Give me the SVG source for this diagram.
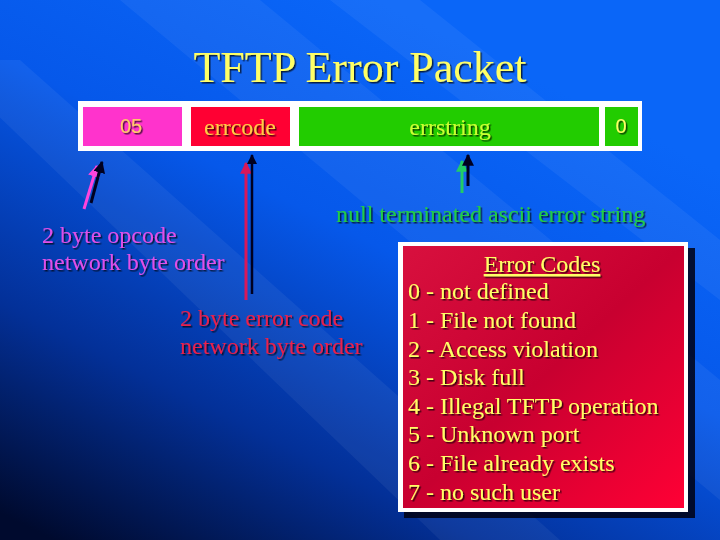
<svg xmlns="http://www.w3.org/2000/svg" width="720" height="540" viewBox="0 0 720 540">
<defs>
<linearGradient id="bg" x1="0.75" y1="0.15" x2="0.15" y2="1.05">
<stop offset="0" stop-color="#0a66f8"/>
<stop offset="0.35" stop-color="#0658ea"/>
<stop offset="0.7" stop-color="#033098"/>
<stop offset="1" stop-color="#000a2e"/>
</linearGradient>
<linearGradient id="redbox" x1="0" y1="0" x2="1" y2="1">
<stop offset="0" stop-color="#d8103e"/>
<stop offset="0.5" stop-color="#c80030"/>
<stop offset="1" stop-color="#ff0035"/>
</linearGradient>
<filter id="sh" x="-5%" y="-20%" width="110%" height="140%">
<feDropShadow dx="1.5" dy="1.5" stdDeviation="0.3" flood-color="#000000" flood-opacity="0.7"/>
</filter>
<marker id="ah" viewBox="0 0 10 10" refX="9" refY="5" markerWidth="4" markerHeight="4" orient="auto-start-reverse">
<path d="M0,0 L10,5 L0,10 z" fill="context-stroke"/>
</marker>
<marker id="ahk" viewBox="0 0 10 10" refX="9" refY="5" markerWidth="4" markerHeight="4" orient="auto">
<path d="M0,0 L10,5 L0,10 z" fill="#000020"/>
</marker>
<marker id="ahp" viewBox="0 0 10 10" refX="9" refY="5" markerWidth="4" markerHeight="4" orient="auto">
<path d="M0,0 L10,5 L0,10 z" fill="#ff44dd"/>
</marker>
<marker id="ahr" viewBox="0 0 10 10" refX="9" refY="5" markerWidth="4" markerHeight="4" orient="auto">
<path d="M0,0 L10,5 L0,10 z" fill="#d8185a"/>
</marker>
<marker id="ahg" viewBox="0 0 10 10" refX="9" refY="5" markerWidth="4" markerHeight="4" orient="auto">
<path d="M0,0 L10,5 L0,10 z" fill="#22cc66"/>
</marker>
</defs>
<style>
.serif{font-family:"Liberation Serif","Times New Roman",serif;}
.sans{font-family:"Liberation Sans",Arial,sans-serif;}
.t24{font-size:24px;}
.yl{fill:#ffff66;}
</style>
<rect x="0" y="0" width="720" height="540" fill="url(#bg)"/>
<g fill="#ffffff" opacity="0.05">
<polygon points="120,0 260,0 720,380 720,500"/>
<polygon points="-60,60 20,60 560,540 440,540"/>
<polygon points="330,0 420,0 720,240 720,300"/>
</g>
<text x="360" y="82" text-anchor="middle" class="serif yl" font-size="44" filter="url(#sh)">TFTP Error Packet</text>

<g id="packet">
<rect x="78" y="101" width="564" height="50" fill="#ffffff"/>
</g>
<g id="cell-opcode">
<rect x="83" y="107" width="99" height="39" fill="#ff33cc"/>
<text x="131" y="133" text-anchor="middle" class="sans" font-size="20" fill="#ffcc66" filter="url(#sh)">05</text>
</g>
<g id="cell-errcode">
<rect x="191" y="107" width="99" height="39" fill="#ff0033"/>
<text x="240" y="135" text-anchor="middle" class="serif t24" fill="#ffcc44" filter="url(#sh)">errcode</text>
</g>
<g id="cell-errstring">
<rect x="299" y="107" width="300" height="39" fill="#22cc00"/>
<text x="450" y="135" text-anchor="middle" class="serif t24" fill="#ccff33" filter="url(#sh)">errstring</text>
</g>
<g id="cell-zero">
<rect x="605" y="107" width="33" height="39" fill="#22cc00"/>
<text x="621" y="133" text-anchor="middle" class="sans" font-size="20" fill="#ffff66" filter="url(#sh)">0</text>
</g>

<g id="connectors" fill="none">
<line x1="84" y1="209" x2="97" y2="166" stroke="#ff44dd" stroke-width="3" marker-end="url(#ahp)"/>
<line x1="91" y1="203" x2="102" y2="162" stroke="#000020" stroke-width="3" marker-end="url(#ahk)"/>
<line x1="246" y1="300" x2="246" y2="163" stroke="#d8185a" stroke-width="3" marker-end="url(#ahr)"/>
<line x1="252" y1="294" x2="252" y2="155" stroke="#000020" stroke-width="2.5" marker-end="url(#ahk)"/>
<line x1="462" y1="193" x2="462" y2="161" stroke="#22cc66" stroke-width="3" marker-end="url(#ahg)"/>
<line x1="468" y1="186" x2="468" y2="155" stroke="#000020" stroke-width="3" marker-end="url(#ahk)"/>
</g>

<g id="label-opcode" class="serif t24" fill="#e050e8" filter="url(#sh)">
<text x="42" y="243">2 byte opcode</text>
<text x="42" y="270">network byte order</text>
</g>
<g id="label-errcode" class="serif t24" fill="#e8204c" filter="url(#sh)">
<text x="180" y="326">2 byte error code</text>
<text x="180" y="354">network byte order</text>
</g>
<g id="label-errstring">
<text x="336" y="222" class="serif t24" fill="#22cc44" filter="url(#sh)">null terminated ascii error string</text>
</g>

<g id="error-codes">
<rect x="404" y="248" width="291" height="270" fill="#000010" opacity="0.85"/>
<rect x="398" y="242" width="290" height="270" fill="#ffffff"/>
<rect x="403" y="246" width="281" height="262" fill="url(#redbox)"/>
<g class="serif t24 yl" filter="url(#sh)">
<text x="542" y="272" text-anchor="middle" text-decoration="underline">Error Codes</text>
<text x="408" y="299">0 - not defined</text>
<text x="408" y="328">1 - File not found</text>
<text x="408" y="357">2 - Access violation</text>
<text x="408" y="385">3 - Disk full</text>
<text x="408" y="414">4 - Illegal TFTP operation</text>
<text x="408" y="442">5 - Unknown port</text>
<text x="408" y="471">6 - File already exists</text>
<text x="408" y="500">7 - no such user</text>
</g>
</g>
</svg>
